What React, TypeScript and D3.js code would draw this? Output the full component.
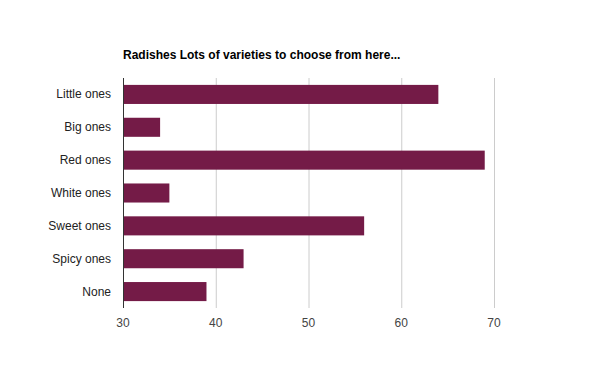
import React from "react";
import * as d3 from "d3";

const categories = ["Little ones", "Big ones", "Red ones", "White ones", "Sweet ones", "Spicy ones", "None"];
const values = [64, 34, 69, 35, 56, 43, 39];
const ticks = [30, 40, 50, 60, 70];
const title = "Radishes Lots of varieties to choose from here...";

export default function App() {
  const W = 600, H = 371;
  const left = 123, right = 494, top = 78, bottom = 308;
  const x = d3.scaleLinear().domain([30, 70]).range([left, right]);
  const y = d3.scaleBand<string>().domain(categories).range([top, bottom]).paddingInner(0.42).paddingOuter(0.21);
  return (
    <svg width={W} height={H} style={{ position: "absolute", left: 0, top: 0, background: "#fff" }} fontFamily="Arial, 'Liberation Sans', sans-serif">
      <text x={left} y={59} fontSize={12} fontWeight="bold" fill="#000">{title}</text>
      {ticks.map((t) => (
        <g key={t}>
          {t !== 30 && <line x1={x(t) + 0.5} x2={x(t) + 0.5} y1={top} y2={bottom} stroke="#cccccc" />}
          <text x={x(t)} y={327} fontSize={12} textAnchor="middle" fill="#444">{t}</text>
        </g>
      ))}
      {categories.map((c, i) => (
        <g key={c}>
          <rect x={x(30)} y={y(c)} width={x(values[i]) - x(30)} height={y.bandwidth()} fill="#741b47" />
          <text x={left - 12} y={(y(c) ?? 0) + y.bandwidth() / 2 + 4} fontSize={12} textAnchor="end" fill="#222">{c}</text>
        </g>
      ))}
      <line x1={left + 0.5} x2={left + 0.5} y1={top} y2={bottom} stroke="#333" />
    </svg>
  );
}
